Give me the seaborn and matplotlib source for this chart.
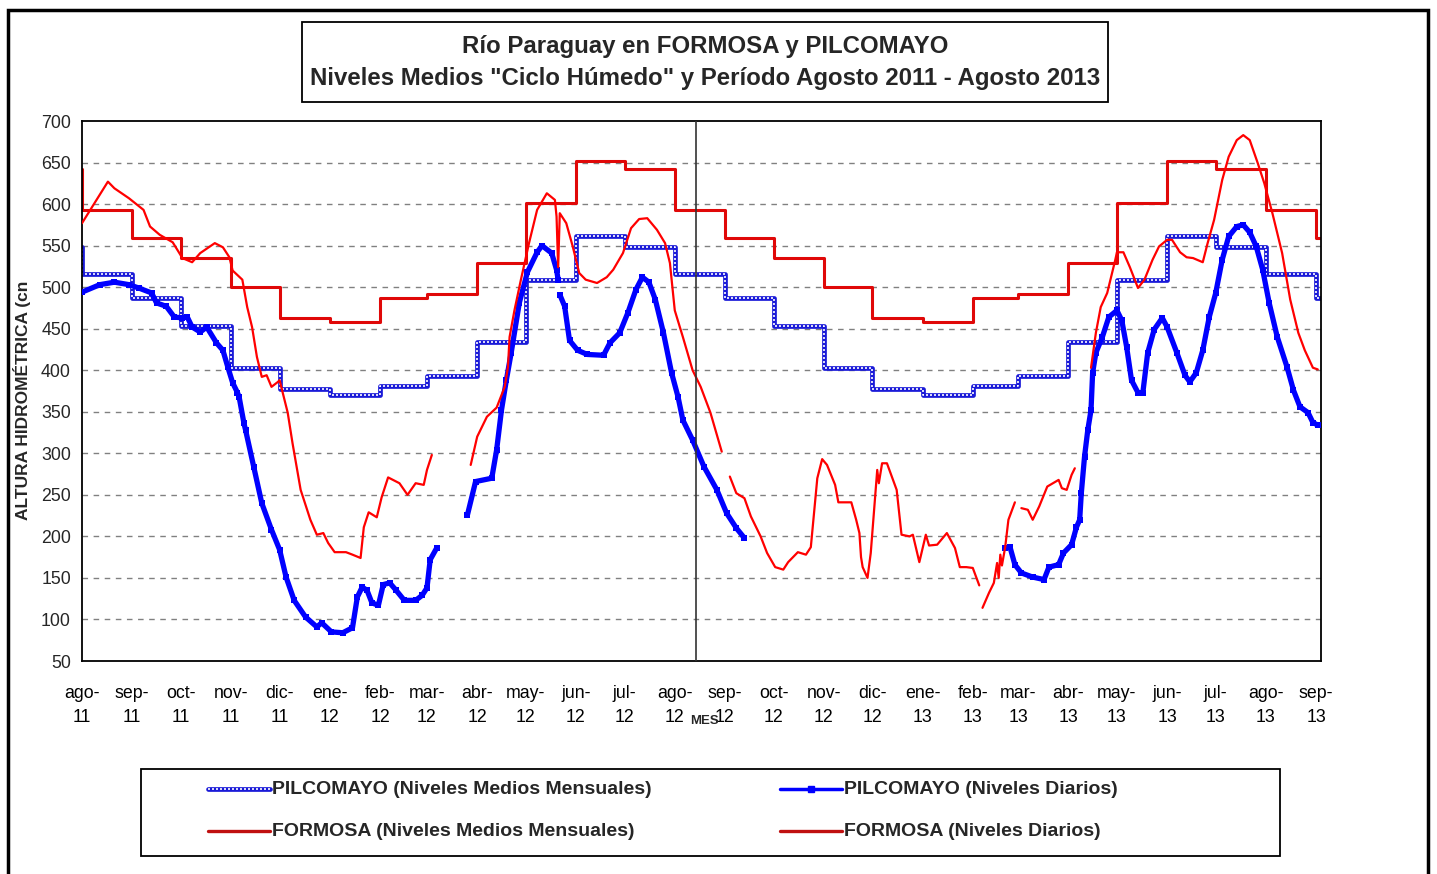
import numpy as np
import pandas as pd
import matplotlib
matplotlib.use("Agg")
import matplotlib.pyplot as plt
import matplotlib.dates as mdates
from matplotlib.patches import Rectangle
from matplotlib.lines import Line2D
import seaborn as sns

# Niveles medios mensuales (ciclo húmedo), un valor por inicio de mes jul-11 .. oct-13
meses = pd.date_range("2011-07-01", "2013-10-01", freq="MS")
pil_mensual = [548, 516, 487, 453, 403, 377, 370, 381, 393, 434, 509, 562,
               548, 516, 487, 453, 403, 377, 370, 381, 393, 434, 509, 562,
               548, 516, 487, 453]
for_mensual = [642, 593, 559, 535, 500, 463, 458, 487, 492, 529, 601, 652,
               642, 593, 559, 535, 500, 463, 458, 487, 492, 529, 601, 652,
               642, 593, 559, 535]

# Niveles diarios FORMOSA (tramos con datos)
for_f1 = ["2011-08-01", "2011-08-17", "2011-08-21", "2011-08-30", "2011-09-08", "2011-09-12",
          "2011-09-18", "2011-09-26", "2011-10-02", "2011-10-08", "2011-10-13", "2011-10-22",
          "2011-10-27", "2011-10-31", "2011-11-02", "2011-11-08", "2011-11-11", "2011-11-14",
          "2011-11-17", "2011-11-20", "2011-11-23", "2011-11-26", "2011-11-30", "2011-12-01",
          "2011-12-06", "2011-12-09", "2011-12-14", "2011-12-20", "2011-12-24", "2011-12-28",
          "2011-12-31", "2012-01-04", "2012-01-11", "2012-01-15", "2012-01-20", "2012-01-22",
          "2012-01-25", "2012-01-30", "2012-02-02", "2012-02-06", "2012-02-13", "2012-02-18",
          "2012-02-23", "2012-02-28", "2012-03-01", "2012-03-04"]
for_n1 = [577, 627, 619, 607, 593, 573, 563, 554, 535, 530, 541, 553,
          548, 536, 520, 509, 476, 452, 416, 392, 394, 380, 386, 388,
          349, 312, 256, 220, 202, 204, 192, 181, 181, 178, 174, 211,
          229, 223, 247, 271, 264, 250, 264, 262, 280, 298]

for_f2 = ["2012-03-28", "2012-04-01", "2012-04-07", "2012-04-13", "2012-04-18", "2012-04-20",
          "2012-04-21", "2012-04-24", "2012-04-28", "2012-05-03", "2012-05-08", "2012-05-14",
          "2012-05-19", "2012-05-20", "2012-05-21", "2012-05-22", "2012-05-26", "2012-05-30",
          "2012-06-03", "2012-06-07", "2012-06-14", "2012-06-20", "2012-06-24", "2012-06-30",
          "2012-07-05", "2012-07-10", "2012-07-15", "2012-07-21", "2012-07-26", "2012-07-29",
          "2012-08-01", "2012-08-06", "2012-08-12", "2012-08-17", "2012-08-23", "2012-08-30"]
for_n2 = [286, 320, 344, 355, 380, 404, 440, 472, 509, 553, 593, 613,
          605, 585, 524, 589, 577, 549, 517, 509, 505, 512, 521, 541,
          571, 582, 583, 569, 553, 529, 472, 440, 400, 380, 349, 302]

for_f3 = ["2012-09-04", "2012-09-08", "2012-09-13", "2012-09-17", "2012-09-23", "2012-09-27",
          "2012-10-02", "2012-10-07", "2012-10-10", "2012-10-16", "2012-10-21", "2012-10-24",
          "2012-10-28", "2012-10-31", "2012-11-03", "2012-11-08", "2012-11-10", "2012-11-18",
          "2012-11-21", "2012-11-23", "2012-11-24", "2012-11-25", "2012-11-28", "2012-11-30",
          "2012-12-04", "2012-12-05", "2012-12-07", "2012-12-10", "2012-12-13", "2012-12-16",
          "2012-12-19", "2012-12-24", "2012-12-26", "2012-12-30", "2013-01-03", "2013-01-05",
          "2013-01-10", "2013-01-16", "2013-01-21", "2013-01-24", "2013-01-28", "2013-02-01",
          "2013-02-05"]
for_n3 = [272, 252, 246, 224, 200, 180, 163, 160, 169, 181, 178, 187,
          270, 293, 286, 262, 241, 241, 220, 204, 175, 163, 150, 180,
          280, 264, 288, 288, 272, 256, 202, 200, 202, 169, 202, 189,
          190, 204, 186, 163, 163, 162, 141]

for_f4 = ["2013-02-07", "2013-02-11", "2013-02-14", "2013-02-16", "2013-02-17", "2013-02-18",
          "2013-02-19", "2013-02-21", "2013-02-23", "2013-02-27"]
for_n4 = [114, 132, 144, 168, 150, 178, 165, 187, 220, 241]

for_f5 = ["2013-03-03", "2013-03-07", "2013-03-10", "2013-03-14", "2013-03-19", "2013-03-26",
          "2013-03-28", "2013-03-31", "2013-04-03", "2013-04-05"]
for_n5 = [234, 232, 220, 236, 260, 268, 258, 256, 274, 282]

for_f6 = ["2013-04-15", "2013-04-18", "2013-04-21", "2013-04-25", "2013-04-30", "2013-05-01",
          "2013-05-05", "2013-05-09", "2013-05-14", "2013-05-18", "2013-05-23", "2013-05-27",
          "2013-06-01", "2013-06-04", "2013-06-09", "2013-06-13", "2013-06-17", "2013-06-23",
          "2013-06-26", "2013-06-30", "2013-07-05", "2013-07-09", "2013-07-14", "2013-07-18",
          "2013-07-22", "2013-07-27", "2013-07-31", "2013-08-05", "2013-08-11", "2013-08-16",
          "2013-08-21", "2013-08-25", "2013-08-30", "2013-09-02"]
for_n6 = [403, 445, 476, 493, 533, 542, 542, 524, 499, 509, 533, 549,
          557, 557, 542, 536, 535, 530, 553, 581, 629, 657, 677, 683,
          677, 649, 625, 589, 541, 485, 445, 424, 403, 401]

# Niveles diarios PILCOMAYO
pil_f1 = ["2011-08-01", "2011-08-12", "2011-08-21", "2011-08-30", "2011-09-05", "2011-09-13",
          "2011-09-16", "2011-09-22", "2011-09-27", "2011-10-02", "2011-10-05", "2011-10-08",
          "2011-10-13", "2011-10-17", "2011-10-23", "2011-10-27", "2011-10-30", "2011-11-02",
          "2011-11-05", "2011-11-06", "2011-11-09", "2011-11-10", "2011-11-15", "2011-11-20",
          "2011-11-26", "2011-12-01", "2011-12-05", "2011-12-10", "2011-12-17", "2011-12-24",
          "2011-12-27", "2012-01-02", "2012-01-09", "2012-01-15", "2012-01-18", "2012-01-21",
          "2012-01-24", "2012-01-27", "2012-01-31", "2012-02-03", "2012-02-07", "2012-02-11",
          "2012-02-16", "2012-02-23", "2012-02-27", "2012-03-01", "2012-03-03", "2012-03-07"]
pil_n1 = [494, 503, 506, 503, 499, 493, 481, 477, 464, 463, 464, 452,
          446, 452, 433, 424, 404, 385, 373, 368, 336, 328, 284, 240,
          208, 184, 151, 123, 103, 91, 96, 85, 84, 90, 127, 139,
          135, 120, 117, 142, 144, 135, 123, 123, 129, 138, 172, 186]

pil_f2 = ["2012-03-26", "2012-03-31", "2012-04-10", "2012-04-13", "2012-04-16", "2012-04-19",
          "2012-04-22", "2012-04-27", "2012-05-02", "2012-05-08", "2012-05-11", "2012-05-17",
          "2012-05-20", "2012-05-21"]
pil_n2 = [226, 266, 270, 304, 352, 388, 421, 481, 518, 542, 550, 541, 521, 509]

pil_f3 = ["2012-05-22", "2012-05-25", "2012-05-28", "2012-06-02", "2012-06-08", "2012-06-18",
          "2012-06-22", "2012-06-28", "2012-07-03", "2012-07-08", "2012-07-12", "2012-07-16",
          "2012-07-20", "2012-07-25", "2012-07-30", "2012-08-03", "2012-08-06", "2012-08-12",
          "2012-08-19", "2012-08-27", "2012-09-02", "2012-09-08", "2012-09-13"]
pil_n3 = [491, 477, 436, 424, 419, 418, 433, 445, 469, 497, 512, 506,
          485, 445, 397, 368, 340, 316, 284, 256, 228, 210, 198]

pil_f4 = ["2013-02-21", "2013-02-24", "2013-02-27", "2013-03-03", "2013-03-10", "2013-03-17",
          "2013-03-20", "2013-03-26", "2013-03-29", "2013-04-03", "2013-04-06", "2013-04-08",
          "2013-04-09", "2013-04-11", "2013-04-13", "2013-04-15", "2013-04-16", "2013-04-18",
          "2013-04-22", "2013-04-26", "2013-05-01", "2013-05-04", "2013-05-07", "2013-05-10",
          "2013-05-14", "2013-05-17", "2013-05-20", "2013-05-24", "2013-05-29", "2013-06-01",
          "2013-06-07", "2013-06-12", "2013-06-15", "2013-06-19", "2013-06-23", "2013-06-27",
          "2013-07-01", "2013-07-05", "2013-07-09", "2013-07-14", "2013-07-18", "2013-07-22",
          "2013-07-26", "2013-07-30", "2013-08-03", "2013-08-08", "2013-08-14", "2013-08-18",
          "2013-08-22", "2013-08-27", "2013-08-30", "2013-09-02"]
pil_n4 = [186, 187, 166, 156, 151, 148, 163, 166, 180, 190, 211, 220,
          252, 296, 328, 352, 397, 421, 440, 464, 472, 460, 428, 388,
          373, 373, 421, 449, 463, 452, 421, 394, 386, 397, 424, 464,
          493, 533, 561, 573, 575, 566, 549, 521, 481, 440, 404, 376,
          356, 349, 337, 334]

MESES_ES = ["ene", "feb", "mar", "abr", "may", "jun", "jul", "ago", "sep", "oct", "nov", "dic"]


def armar_tramos(tramos):
    filas = []
    for i, (f, n) in enumerate(tramos):
        for fecha, nivel in zip(f, n):
            filas.append({"fecha": pd.Timestamp(fecha), "nivel": nivel, "tramo": i})
    return pd.DataFrame(filas)


df_for = armar_tramos([(for_f1, for_n1), (for_f2, for_n2), (for_f3, for_n3),
                       (for_f4, for_n4), (for_f5, for_n5), (for_f6, for_n6)])
df_pil = armar_tramos([(pil_f1, pil_n1), (pil_f2, pil_n2), (pil_f3, pil_n3), (pil_f4, pil_n4)])
df_mens = pd.DataFrame({"fecha": meses, "pil": pil_mensual, "for": for_mensual})

sns.set_style("white")
plt.rcParams["font.family"] = ["Liberation Sans", "DejaVu Sans"]

fig = plt.figure(figsize=(14.37, 8.74), dpi=100)
ax = fig.add_axes([82 / 1437, 1 - 661 / 874, (1321 - 82) / 1437, (661 - 121) / 874])

# grilla horizontal discontinua
for v in range(100, 700, 50):
    ax.axhline(v, color="#808080", lw=1.0, dashes=(4, 4), zorder=0)

AZUL = "#0000ff"
ROJO = "#ff0000"
ROJO_M = "#e00808"

sns.lineplot(data=df_mens, x="fecha", y="for", drawstyle="steps-post", color=ROJO_M,
             lw=2.2, ax=ax, zorder=2)
sns.lineplot(data=df_mens, x="fecha", y="pil", drawstyle="steps-post", color="#1a1ad8",
             lw=3.4, ax=ax, zorder=2)
sns.lineplot(data=df_mens, x="fecha", y="pil", drawstyle="steps-post", color="white",
             lw=1.2, dashes=(1.2, 1.2), ax=ax, zorder=2)
sns.lineplot(data=df_pil, x="fecha", y="nivel", units="tramo", estimator=None, color=AZUL,
             lw=3.8, marker="s", markersize=4, markeredgewidth=0, ax=ax, zorder=3)
sns.lineplot(data=df_for, x="fecha", y="nivel", units="tramo", estimator=None, color=ROJO,
             lw=1.6, ax=ax, zorder=4)

ax.axvline(pd.Timestamp("2012-08-14"), color="#333333", lw=1.2, zorder=5)

ax.set_xlim(pd.Timestamp("2011-08-01"), pd.Timestamp("2013-09-04"))
ax.set_ylim(50, 700)
ax.set_yticks(range(50, 701, 50))
ax.xaxis.set_major_locator(mdates.MonthLocator())
ax.xaxis.set_minor_locator(mdates.DayLocator(bymonthday=[6, 11, 16, 21, 26]))
ax.xaxis.set_major_formatter(plt.FuncFormatter(
    lambda x, pos: "%s-\n%s" % (MESES_ES[mdates.num2date(x).month - 1],
                                mdates.num2date(x).strftime("%y"))))
ax.tick_params(axis="x", which="major", direction="inout", length=10, width=1.2,
               labelsize=12.8, pad=12, colors="black")
ax.tick_params(axis="x", which="minor", direction="in", length=4, width=1)
ax.tick_params(axis="y", which="major", direction="out", length=5, width=1.2,
               labelsize=12.8, pad=3)
for lab in ax.get_xticklabels():
    lab.set_linespacing(1.6)
for s in ax.spines.values():
    s.set_color("black")
    s.set_linewidth(1.3)
ax.set_xlabel("")
ax.set_ylabel("")
ax.grid(False)

fig.text(22 / 1437, 1 - 400 / 874, "ALTURA HIDROMÉTRICA (cn", rotation=90, ha="center",
         va="center", fontsize=12.5, fontweight="bold")
fig.text(704 / 1437, 1 - 721 / 874, "MES", ha="center", va="center", fontsize=9.5,
         fontweight="bold")

# recuadro del título
fig.patches.append(Rectangle((302 / 1437, 1 - 102 / 874), (1108 - 302) / 1437, 80 / 874,
                             transform=fig.transFigure, fill=False, ec="black", lw=1.3))
fig.text(705 / 1437, 1 - 46 / 874, "Río Paraguay en FORMOSA y PILCOMAYO", ha="center",
         va="center", fontsize=17.3, fontweight="bold")
fig.text(705 / 1437, 1 - 79 / 874, 'Niveles Medios "Ciclo Húmedo" y Período Agosto 2011 - Agosto 2013',
         ha="center", va="center", fontsize=17.3, fontweight="bold")

# recuadro de la leyenda
fig.patches.append(Rectangle((141 / 1437, 1 - 856 / 874), (1280 - 141) / 1437, 87 / 874,
                             transform=fig.transFigure, fill=False, ec="black", lw=1.3))
entradas = [
    (208, 789, "PILCOMAYO (Niveles Medios Mensuales)", "pm"),
    (780, 789, "PILCOMAYO (Niveles Diarios)", "pd"),
    (208, 831, "FORMOSA (Niveles Medios Mensuales)", "fm"),
    (780, 831, "FORMOSA (Niveles Diarios)", "fd"),
]
for x0, y0, texto, tipo in entradas:
    xs = [x0 / 1437, (x0 + 62) / 1437]
    ys = [1 - y0 / 874] * 2
    if tipo == "pm":
        fig.add_artist(Line2D(xs, ys, color="#1a1ad8", lw=3.4, transform=fig.transFigure))
        fig.add_artist(Line2D(xs, ys, color="white", lw=1.2, dashes=(1.2, 1.2),
                              transform=fig.transFigure))
    elif tipo == "pd":
        fig.add_artist(Line2D(xs, ys, color=AZUL, lw=2.5, transform=fig.transFigure))
        fig.add_artist(Line2D([sum(xs) / 2], [ys[0]], color=AZUL, marker="s", markersize=5,
                              transform=fig.transFigure))
    else:
        fig.add_artist(Line2D(xs, ys, color="#c01010", lw=2.4, transform=fig.transFigure))
    fig.text((x0 + 64) / 1437, 1 - y0 / 874, texto, ha="left", va="center", fontsize=14,
             fontweight="bold")

# marco exterior
fig.patches.append(Rectangle((8 / 1437, -0.02), (1428 - 8) / 1437, 1 - 10 / 874 + 0.02,
                             transform=fig.transFigure, fill=False, ec="black", lw=2.5))

fig.savefig("out.png", dpi=100)
